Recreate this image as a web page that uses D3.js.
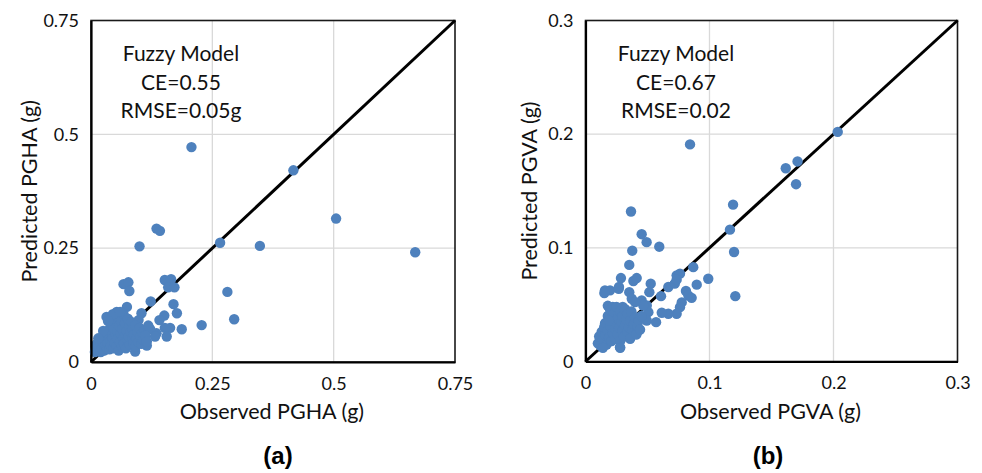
<!DOCTYPE html>
<html>
<head>
<meta charset="utf-8">
<script src="https://cdn.jsdelivr.net/npm/d3@7"></script>
<style>
  html, body { margin: 0; padding: 0; background: #fff; }
  svg { display: block; }
  .tick text { font-family: Lato, "Open Sans", sans-serif; font-size: 18px; fill: #111; }
</style>
</head>
<body>
<svg id="chart" width="982" height="473"></svg>
<script>
// Panel (a): observed vs predicted peak ground horizontal acceleration (g)
const pghaObserved = [
  0.207, 0.417, 0.135, 0.142, 0.100, 0.266, 0.348, 0.505, 0.668,
  0.067, 0.077, 0.079, 0.152, 0.165, 0.159, 0.172, 0.281, 0.295, 0.228,
  0.123, 0.170, 0.177, 0.187, 0.151, 0.141, 0.163, 0.152, 0.135, 0.122,
  0.156, 0.132, 0.115, 0.091, 0.074, 0.104, 0.098, 0.032, 0.053,
  0.008, 0.010, 0.012, 0.014, 0.016, 0.018, 0.020, 0.021, 0.023, 0.024,
  0.026, 0.027, 0.029, 0.030, 0.031, 0.033, 0.034, 0.036, 0.037, 0.038,
  0.040, 0.041, 0.042, 0.043, 0.045, 0.046, 0.047, 0.049, 0.050, 0.051,
  0.053, 0.054, 0.055, 0.056, 0.057, 0.058, 0.060, 0.061, 0.062, 0.064,
  0.065, 0.066, 0.067, 0.068, 0.070, 0.071, 0.072, 0.073, 0.075, 0.076,
  0.078, 0.079, 0.080, 0.082, 0.083, 0.085, 0.086, 0.088, 0.089, 0.091,
  0.092, 0.094, 0.096, 0.098, 0.100, 0.102, 0.104, 0.106, 0.108, 0.110,
  0.112, 0.115, 0.118, 0.025, 0.015, 0.045, 0.060, 0.035
];
const pghaPredicted = [
  0.472, 0.421, 0.293, 0.288, 0.254, 0.262, 0.255, 0.315, 0.241,
  0.171, 0.175, 0.156, 0.180, 0.182, 0.164, 0.164, 0.154, 0.094, 0.081,
  0.133, 0.127, 0.107, 0.072, 0.102, 0.092, 0.075, 0.075, 0.063, 0.072,
  0.056, 0.056, 0.036, 0.023, 0.121, 0.107, 0.092, 0.099, 0.110,
  0.022, 0.030, 0.040, 0.026, 0.034, 0.048, 0.022, 0.038, 0.030, 0.055,
  0.044, 0.025, 0.036, 0.062, 0.050, 0.030, 0.042, 0.070, 0.056, 0.028,
  0.046, 0.036, 0.085, 0.064, 0.052, 0.030, 0.075, 0.042, 0.095, 0.060,
  0.035, 0.068, 0.050, 0.100, 0.025, 0.080, 0.044, 0.062, 0.090, 0.034,
  0.072, 0.052, 0.105, 0.040, 0.085, 0.060, 0.030, 0.068, 0.048, 0.095,
  0.056, 0.078, 0.038, 0.066, 0.088, 0.050, 0.072, 0.042, 0.060, 0.080,
  0.034, 0.052, 0.066, 0.044, 0.075, 0.056, 0.040, 0.064, 0.048, 0.070,
  0.058, 0.045, 0.080, 0.068, 0.052, 0.105, 0.110, 0.090
];

// Panel (b): observed vs predicted peak ground vertical acceleration (g)
const pgvaObserved = [
  0.0843, 0.119, 0.1165, 0.1198, 0.1208, 0.2034, 0.171, 0.1615, 0.1698,
  0.0367, 0.0453, 0.0493, 0.0595, 0.0377, 0.0353, 0.0286, 0.0386, 0.0413,
  0.0526, 0.0869, 0.099, 0.0897, 0.0735, 0.0762, 0.0668, 0.072, 0.027,
  0.0157, 0.0198, 0.0152, 0.0268, 0.0353, 0.0515, 0.0609, 0.0735, 0.081,
  0.083, 0.0856, 0.0776, 0.0762, 0.0735, 0.0668, 0.0615, 0.0569, 0.0507,
  0.0494, 0.0453, 0.0494, 0.0466, 0.0373, 0.040, 0.018, 0.022, 0.030,
  0.0157, 0.040, 0.041, 0.036, 0.0278,
  0.010, 0.011, 0.012, 0.013, 0.014, 0.015, 0.016, 0.016, 0.017, 0.018,
  0.018, 0.019, 0.020, 0.020, 0.021, 0.022, 0.022, 0.023, 0.024, 0.024,
  0.025, 0.025, 0.026, 0.026, 0.027, 0.028, 0.028, 0.029, 0.030, 0.030,
  0.031, 0.032, 0.032, 0.033, 0.034, 0.034, 0.035, 0.036, 0.036, 0.037,
  0.038, 0.039, 0.040, 0.041, 0.042, 0.043, 0.044, 0.045, 0.028, 0.019,
  0.014
];
const pgvaPredicted = [
  0.191, 0.138, 0.116, 0.0963, 0.0575, 0.202, 0.176, 0.170, 0.156,
  0.132, 0.112, 0.105, 0.101, 0.0975, 0.085, 0.0734, 0.0708, 0.0734,
  0.0685, 0.083, 0.0728, 0.0676, 0.0758, 0.0773, 0.0655, 0.0685, 0.0655,
  0.0626, 0.0626, 0.0602, 0.064, 0.061, 0.061, 0.0575, 0.072, 0.062,
  0.058, 0.056, 0.052, 0.0478, 0.042, 0.042, 0.0429, 0.0346, 0.0434,
  0.0361, 0.0537, 0.0493, 0.0493, 0.0552, 0.0522, 0.049, 0.048, 0.048,
  0.033, 0.030, 0.024, 0.0214, 0.0126,
  0.016, 0.022, 0.014, 0.026, 0.019, 0.030, 0.023, 0.034, 0.015, 0.027,
  0.040, 0.021, 0.031, 0.045, 0.018, 0.036, 0.025, 0.042, 0.029, 0.020,
  0.034, 0.048, 0.038, 0.024, 0.030, 0.044, 0.018, 0.035, 0.027, 0.040,
  0.022, 0.046, 0.032, 0.037, 0.026, 0.042, 0.030, 0.020, 0.036, 0.044,
  0.028, 0.033, 0.039, 0.024, 0.031, 0.036, 0.028, 0.040, 0.012, 0.036,
  0.012
];

const pghaTicks = [0, 0.25, 0.5, 0.75];
const pgvaTicks = [0, 0.1, 0.2, 0.3];
const pghaStats = ["Fuzzy Model", "CE=0.55", "RMSE=0.05g"];
const pgvaStats = ["Fuzzy Model", "CE=0.67", "RMSE=0.02"];

const svg = d3.select("#chart");
const FONT = "Lato, 'Open Sans', sans-serif";
const DOT = "#4e81bd";

function drawPanel(cfg) {
  const x = d3.scaleLinear().domain(cfg.domain).range([cfg.left, cfg.right]);
  const y = d3.scaleLinear().domain(cfg.domain).range([cfg.bottom, cfg.top]);
  const g = svg.append("g");

  // light gridlines at the interior ticks
  const inner = cfg.ticks.slice(1, -1);
  g.selectAll("line.vg").data(inner).join("line")
    .attr("x1", d => x(d)).attr("x2", d => x(d))
    .attr("y1", cfg.top).attr("y2", cfg.bottom)
    .attr("stroke", "#d9d9d9").attr("stroke-width", 1.3);
  g.selectAll("line.hg").data(inner).join("line")
    .attr("x1", cfg.left).attr("x2", cfg.right)
    .attr("y1", d => y(d)).attr("y2", d => y(d))
    .attr("stroke", "#d9d9d9").attr("stroke-width", 1.3);

  // plot frame
  g.append("rect")
    .attr("x", cfg.left).attr("y", cfg.top)
    .attr("width", cfg.right - cfg.left).attr("height", cfg.bottom - cfg.top)
    .attr("fill", "none").attr("stroke", "#1a1a1a").attr("stroke-width", 1.6);

  // 1:1 reference line
  const [d0, d1] = cfg.domain;
  g.append("line")
    .attr("x1", x(d0)).attr("y1", y(d0))
    .attr("x2", x(d1)).attr("y2", y(d1))
    .attr("stroke", "#000").attr("stroke-width", 3);

  // scatter points
  const pts = cfg.obs.map((o, i) => [o, cfg.pred[i]]);
  g.selectAll("circle").data(pts).join("circle")
    .attr("cx", d => x(d[0])).attr("cy", d => y(d[1]))
    .attr("r", 5.2).attr("fill", DOT);

  // axes
  const fmt = d => String(d);
  const xAxis = g.append("g").attr("transform", `translate(0,${cfg.bottom})`)
    .call(d3.axisBottom(x).tickValues(cfg.ticks).tickSize(0).tickPadding(15).tickFormat(fmt));
  const yAxis = g.append("g").attr("transform", `translate(${cfg.left},0)`)
    .call(d3.axisLeft(y).tickValues(cfg.ticks).tickSize(0).tickPadding(12).tickFormat(fmt));
  [xAxis, yAxis].forEach(a => a.select(".domain").attr("stroke", "#000").attr("stroke-width", 2.2));

  // axis titles
  g.append("text")
    .attr("x", (cfg.left + cfg.right) / 2 - 1).attr("y", 419)
    .attr("text-anchor", "middle")
    .style("font-family", FONT).style("font-size", "21.5px").attr("fill", "#111")
    .text(cfg.xTitle);
  g.append("text")
    .attr("transform", `translate(${cfg.yTitleX},${(cfg.top + cfg.bottom) / 2}) rotate(-90)`)
    .attr("text-anchor", "middle")
    .style("font-family", FONT).style("font-size", "21.5px").attr("fill", "#111")
    .text(cfg.yTitle);

  // model statistics
  g.selectAll("text.stat").data(cfg.stats).join("text")
    .attr("class", "stat")
    .attr("x", cfg.statX).attr("y", (d, i) => 61 + i * 28.5)
    .attr("text-anchor", "middle")
    .style("font-family", FONT).style("font-size", "21px").attr("fill", "#111")
    .text(d => d);

  // panel label
  g.append("text")
    .attr("x", cfg.labelX).attr("y", 464)
    .attr("text-anchor", "middle")
    .style("font-family", "'Liberation Sans', Arial, sans-serif")
    .style("font-size", "24px").style("font-weight", "bold").attr("fill", "#000")
    .text(cfg.label);
}

drawPanel({
  left: 91, right: 455, top: 20.5, bottom: 362,
  domain: [0, 0.75], ticks: pghaTicks,
  obs: pghaObserved, pred: pghaPredicted,
  xTitle: "Observed PGHA (g)", yTitle: "Predicted PGHA (g)", yTitleX: 37,
  stats: pghaStats, statX: 181, label: "(a)", labelX: 278
});

drawPanel({
  left: 585.5, right: 957.5, top: 20.5, bottom: 361.5,
  domain: [0, 0.3], ticks: pgvaTicks,
  obs: pgvaObserved, pred: pgvaPredicted,
  xTitle: "Observed PGVA (g)", yTitle: "Predicted PGVA (g)", yTitleX: 537,
  stats: pgvaStats, statX: 676, label: "(b)", labelX: 768
});
</script>
</body>
</html>
